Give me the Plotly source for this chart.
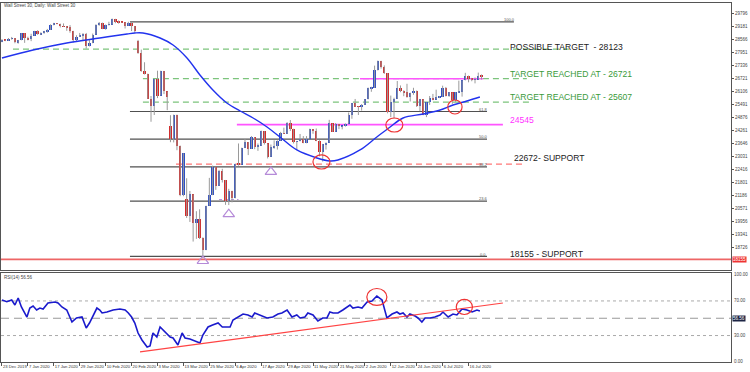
import plotly.graph_objects as go

# ---------------- data ----------------
date_labels = ["23 Dec 2019", "7 Jan 2020", "17 Jan 2020", "29 Jan 2020", "10 Feb 2020",
               "20 Feb 2020", "3 Mar 2020", "13 Mar 2020", "25 Mar 2020", "6 Apr 2020",
               "17 Apr 2020", "29 Apr 2020", "11 May 2020", "21 May 2020", "2 Jun 2020",
               "12 Jun 2020", "24 Jun 2020", "6 Jul 2020", "16 Jul 2020"]
label_bars = [0, 8, 16, 24, 32, 40, 48, 56, 64, 72, 80, 88, 96, 104, 112, 120, 128, 136, 144]

opens = [28480, 28560, 28520, 28620, 28640, 28460, 28540, 28870, 28650, 28580,
         28760, 28960, 28820, 28910, 28940, 29030, 29290, 29350, 29320, 29200,
         29190, 29160, 28990, 28540, 28720, 28740, 28860, 28260, 28400, 28810,
         29290, 29380, 29100, 29280, 29280, 29550, 29420, 29400, 29390, 29230,
         29350, 29220, 28500, 27960, 27080, 26960, 25770, 25410, 26700, 25920,
         27090, 26120, 24500, 23850, 25020, 23550, 21200, 21000, 20190, 21240,
         19900, 20090, 19170, 18590, 20700, 21200, 22550, 21640, 22330, 21920,
         20940, 21410, 21050, 22680, 22650, 23430, 23720, 23390, 23950, 23500,
         23540, 24240, 23650, 23020, 23480, 23520, 23780, 24130, 24100, 24630,
         24350, 23720, 23750, 23880, 23660, 23880, 24330, 24220, 23760, 23250,
         23620, 23690, 24600, 24210, 24580, 24470, 24470, 24590, 25000, 25550,
         25400, 25380, 25480, 25740, 26270, 26280, 27110, 27570, 27270, 26990,
         25130, 25600, 25760, 26290, 26120, 26080, 25870, 26020, 26160, 25450,
         25750, 25020, 25600, 25810, 25730, 25830, 25850, 26290, 25890, 26070,
         25710, 26080, 26090, 26640, 26870, 26730, 26680, 26680, 26850]
highs = [28600, 28580, 28650, 28700, 28650, 28560, 28880, 28880, 28710, 28850,
         28990, 29020, 28920, 28990, 29080, 29300, 29370, 29360, 29330, 29340,
         29220, 29260, 28990, 28780, 28890, 28880, 28890, 28550, 28860, 29300,
         29410, 29380, 29290, 29420, 29570, 29560, 29480, 29420, 29400, 29420,
         29400, 29220, 28560, 28100, 27500, 26960, 25900, 26710, 27100, 27100,
         27090, 26120, 24990, 25020, 25020, 23550, 23190, 22000, 21400, 21240,
         20440, 20530, 19200, 20700, 22020, 22600, 22550, 22400, 22450, 21920,
         21500, 21410, 22700, 23650, 23450, 23860, 23720, 24000, 23950, 23650,
         24260, 24240, 23650, 23600, 23800, 23800, 24200, 24400, 24660, 24760,
         24350, 23770, 24100, 24000, 24000, 24350, 24330, 24360, 23800, 23630,
         23700, 24770, 24600, 24620, 24580, 24480, 24600, 25120, 25560, 25760,
         25420, 25520, 25750, 26300, 26340, 27340, 27580, 27570, 27350, 26990,
         25920, 25820, 26610, 26400, 26170, 26480, 26060, 26290, 26160, 25760,
         25750, 25600, 25900, 26000, 26200, 25900, 26390, 26330, 26090, 26070,
         26090, 26630, 26640, 27000, 26870, 26760, 26780, 27010, 26920]
lows = [28450, 28500, 28510, 28570, 28400, 28380, 28540, 28420, 28540, 28500,
        28760, 28800, 28790, 28850, 28900, 29030, 29250, 29300, 29150, 29170,
        28990, 28900, 28440, 28500, 28700, 28500, 28150, 28250, 28400, 28810,
        29230, 29070, 29040, 29240, 29280, 29350, 29330, 29370, 29100, 29230,
        28980, 28900, 27900, 27050, 26920, 25760, 24680, 25000, 25800, 25920,
        25990, 25230, 23710, 23700, 23330, 21150, 21150, 20120, 19930, 19000,
        19130, 19120, 18210, 18590, 20700, 21200, 21450, 21640, 21800, 20740,
        20730, 20860, 21050, 22600, 22650, 23430, 23100, 23390, 23380, 23300,
        23540, 23600, 22940, 23020, 23400, 23360, 23780, 24100, 24100, 24240,
        23650, 23360, 23750, 23660, 23660, 23880, 24110, 23760, 23040, 22790,
        23360, 23690, 24200, 24210, 24330, 24320, 24450, 24590, 24820, 25380,
        25000, 25210, 25480, 25740, 26100, 26280, 27110, 27200, 26950, 25080,
        24900, 24840, 25760, 26080, 25890, 25820, 25640, 25960, 25380, 25180,
        24990, 24900, 25480, 25700, 25730, 25800, 25850, 25880, 25860, 25530,
        25620, 26040, 25870, 26640, 26550, 26600, 26500, 26680, 26680]
closes = [28560, 28520, 28620, 28640, 28460, 28540, 28870, 28650, 28580, 28760,
          28960, 28820, 28910, 28940, 29030, 29290, 29350, 29320, 29200, 29190,
          29160, 28990, 28540, 28720, 28740, 28860, 28260, 28400, 28810, 29290,
          29380, 29100, 29280, 29280, 29550, 29420, 29400, 29390, 29230, 29350,
          29220, 29000, 27960, 27080, 26960, 25770, 25410, 26700, 25920, 27090,
          26120, 25860, 23850, 25020, 23550, 21200, 23190, 20190, 21240, 19900,
          20090, 19170, 18590, 20700, 21200, 22550, 21640, 22330, 21920, 20940,
          21410, 21050, 22680, 22650, 23430, 23720, 23390, 23950, 23500, 23540,
          24240, 23650, 23020, 23480, 23520, 23780, 24130, 24100, 24630, 24350,
          23720, 23750, 23880, 23660, 23880, 24330, 24220, 23760, 23250, 23620,
          23690, 24600, 24210, 24580, 24470, 24470, 24590, 25000, 25550, 25400,
          25380, 25480, 25740, 26270, 26280, 27110, 27570, 27270, 26990, 25130,
          25600, 25760, 26290, 26120, 26080, 25870, 26020, 26160, 25450, 25750,
          25020, 25600, 25810, 25730, 25830, 25850, 26290, 25890, 26070, 25710,
          26080, 26090, 26640, 26870, 26730, 26680, 26680, 26850, 26820]

# moving average
ma_bar = [0, 9.6, 20, 30.2, 38.6, 41, 43.5, 48.8, 52.8, 57.1, 61.1, 65.1, 69.4, 73.5,
          77.5, 81.8, 85.8, 91, 97.2, 101.2, 103.7, 110.5, 115.7, 119.8, 123.8, 130,
          135.2, 139.2, 143.5, 147.5]
ma_val = [27702, 28081, 28413, 28650, 28840, 28887, 28887, 28650, 28318, 27702, 26896,
          26185, 25569, 25190, 24858, 24432, 23958, 23342, 22963, 22821, 22868, 23342,
          23958, 24432, 24858, 25048, 25237, 25474, 25664, 25853]

# RSI(14)
rsi_bar = [0, 1.5, 3, 4, 5, 6, 7.7, 8.6, 9.6, 10.7, 11.7, 12.7, 14.2, 16.4, 17.3, 18.5,
           20, 21.6, 23, 24.7, 26, 27, 29.3, 30.2, 30.9, 32.4, 34.3, 36.4, 38, 39, 40,
           41, 42, 43.2, 44.8, 45.7, 46.6, 47.8, 48.8, 50.3, 51.9, 52.8, 54.3, 55.6,
           56.5, 58, 59.6, 61.1, 62, 63.6, 65, 66.7, 68, 70.4, 71.3, 72.8, 74.4, 75.9,
           77.2, 78, 79.6, 81.8, 83.6, 85.2, 86.4, 88, 89.5, 91, 92, 93.5, 94.4, 96,
           97.5, 99, 100.3, 101.2, 102.2, 103.7, 105.2, 107.4, 108.3, 109.9, 111.1,
           112.7, 114.2, 115.7, 117.3, 118.8, 120.4, 121.9, 122.8, 123.8, 125, 125.9,
           127.5, 128.4, 129.6, 130.6, 132.1, 133.6, 135.2, 136.1, 137.7, 139.2, 140.4,
           142, 143.5, 145.1, 146.6, 147.5]
rsi_val = [71.1, 69.1, 71.1, 65.3, 73.4, 63, 51.4, 61.8, 64.2, 59.5, 61.8, 60.7, 67.6,
           68.8, 67.6, 63, 59.5, 45.7, 50.3, 51.4, 38.7, 44.5, 61.8, 59.5, 56.1, 57.2,
           59.5, 60.7, 59.5, 56.1, 51.4, 44.5, 32.9, 24.9, 16.8, 17.9, 32.9, 28.3, 39.9,
           34.1, 28.3, 27.2, 19.1, 32.9, 27.2, 26, 23.7, 21.4, 30.6, 39.9, 42.2, 44.5,
           39.9, 39.9, 48, 51.4, 54.9, 53.8, 51.4, 56.1, 53.8, 50.3, 51.4, 54.9, 56.1,
           59.5, 51.4, 53.8, 50.3, 51.4, 56.1, 53.8, 46.8, 50.3, 50.3, 57.2, 56.1, 56.1,
           59.5, 65.3, 61.8, 63, 61.8, 68.8, 69.9, 75.7, 71.1, 50.3, 54.9, 57.2, 54.9,
           56.1, 51.4, 54.9, 52.6, 50.3, 45.7, 50.3, 50.3, 51.4, 53.8, 57.2, 51.4, 54.9,
           53.8, 60.7, 59.5, 57.2, 59.5, 58.4]

price_ticks = [18726 + 615 * k for k in range(19)]
fib_low, fib_high = 18300, 29410
fib_ratios = [0.0, 23.6, 38.2, 50.0, 61.8, 100.0]
possible_target = 28123
target_1 = 26721
target_2 = 25607
level_24545 = 24545
support_1 = 22672
support_2 = 18155
rsi_levels = [70, 50, 30]

# ---------------- figure ----------------
n = len(closes)
bars = list(range(n))
BLUE_C = "#2f4fc4"
RED_C = "#d42a2a"

fig = go.Figure()

# wicks
wx, wy = [], []
for i in bars:
    wx += [i, i, None]
    wy += [lows[i], highs[i], None]
fig.add_trace(go.Scatter(x=wx, y=wy, mode="lines", line=dict(color="#9a9a9a", width=1),
                         hoverinfo="skip", showlegend=False, xaxis="x", yaxis="y"))
# bodies
fig.add_trace(go.Bar(x=bars, y=[max(abs(c - o), 25) for o, c in zip(opens, closes)],
                     base=[min(o, c) for o, c in zip(opens, closes)], width=0.72,
                     marker=dict(color=[BLUE_C if c >= o else RED_C for o, c in zip(opens, closes)],
                                 line=dict(width=0)),
                     showlegend=False, xaxis="x", yaxis="y"))
# MA
fig.add_trace(go.Scatter(x=ma_bar, y=ma_val, mode="lines", line=dict(color="#2233ee", width=1.4, shape="spline"),
                         showlegend=False, xaxis="x", yaxis="y"))
# triangles
tri_bar = [62, 70, 83]
tri_price = [18080, 20300, 22300]
fig.add_trace(go.Scatter(x=tri_bar, y=tri_price, mode="markers",
                         marker=dict(symbol="triangle-up-open", size=10, color="#b58ad8", line=dict(width=1.2)),
                         showlegend=False, xaxis="x", yaxis="y", cliponaxis=False))
# RSI
fig.add_trace(go.Scatter(x=rsi_bar, y=rsi_val, mode="lines", line=dict(color="#1a1acc", width=1.6),
                         showlegend=False, xaxis="x2", yaxis="y2"))

shapes = []
def hline(y, x0, x1, color, width=1, dash="solid", yref="y", xref="x"):
    shapes.append(dict(type="line", xref=xref, yref=yref, x0=x0, x1=x1, y0=y, y1=y,
                       line=dict(color=color, width=width, dash=dash), layer="below"))

# fib lines
fib_prices = [fib_low + (fib_high - fib_low) * r / 100 for r in fib_ratios]
for r, p in zip(fib_ratios, fib_prices):
    x1 = 158 if r == 100.0 else 149.7
    hline(p, 39.5, x1, "#505050", 1.2)
# target / support lines
hline(possible_target, 3.4, 176, "#7cc47c", 1.2, "6px,4px")
hline(target_1, 43.5, 162, "#7cc47c", 1.2, "6px,4px")
hline(target_2, 43.5, 163, "#7cc47c", 1.2, "6px,4px")
hline(level_24545, 72.5, 154.6, "#ff55ff", 1.6)
hline(target_1, 110.5, 148.5, "#ff55ff", 1.6)
hline(support_1, 53.7, 160.8, "#ff7777", 1.2, "6px,4px")
hline(support_2, 0, 1, "#ee6666", 1.8, xref="paper")
hline(20990, 67, 73, "#b58ad8", 1, "3px,3px")
# rsi levels
hline(70, 0, 1, "#aaaaaa", 1, "dot", yref="y2", xref="paper")
hline(30, 0, 1, "#aaaaaa", 1, "dot", yref="y2", xref="paper")
hline(50, 0, 1, "#999999", 1.2, "8px,5px", yref="y2", xref="paper")
# rsi trend line
shapes.append(dict(type="line", xref="x2", yref="y2", x0=42.6, y0=11, x1=154.6, y1=67.6,
                   line=dict(color="#ff4444", width=1.2)))
# circles
def ellipse(cx, cy, rx, ry, yref="y", xref="x"):
    shapes.append(dict(type="circle", xref=xref, yref=yref, x0=cx - rx, x1=cx + rx,
                       y0=cy - ry, y1=cy + ry, line=dict(color="#ee3333", width=1.2)))
ellipse(98.6, 22773, 2.62, 332)
ellipse(121.1, 24526, 2.62, 332)
ellipse(139.8, 25380, 2.2, 332)
ellipse(115.7, 74.6, 3.1, 9.8, yref="y2", xref="x2")
ellipse(142.7, 63, 2.5, 8.7, yref="y2", xref="x2")

FONT = "Liberation Sans, Arial, sans-serif"
ann = []
def text(x, y, s, color="#222222", size=8.6, xref="x", yref="y", xanchor="left", bg=None):
    d = dict(x=x, y=y, xref=xref, yref=yref, text=s, showarrow=False, xanchor=xanchor,
             yanchor="middle", font=dict(family=FONT, size=size, color=color))
    if bg:
        d["bgcolor"] = bg
        d["borderpad"] = 0
    ann.append(d)

text(156.3, possible_target + 120, "POSSIBLE TARGET  - 28123")
text(156.3, target_1 + 200, "TARGET REACHED AT - 26721", "#3a9a3a")
text(156.3, target_2 + 250, "TARGET REACHED AT - 25607", "#3a9a3a")
text(156.3, level_24545 + 230, "24545", "#ff33ff")
text(157.3, support_1 + 280, "22672- SUPPORT")
text(156.3, support_2 + 270, "18155 - SUPPORT")
for r, p in zip(fib_ratios, fib_prices):
    xr = 156.5 if r == 100.0 else 148.5
    text(xr, p + 110, "%.1f" % r, "#555555", 4, xanchor="center")
text(0.002, 0.993, "Wall Street 30, Daily: Wall Street 30", "#444444", 4.5, xref="paper", yref="paper")
text(0.002, 0.2345, "RSI(14) 56.56", "#444444", 4.5, xref="paper", yref="paper")
text(1.002, support_2, "18155", "#ffffff", 4.5, xref="paper", bg="#ee3333")
text(1.002, 50, "56.56", "#ffffff", 4.5, xref="paper", yref="y2", bg="#1c2444")
for v in [100, 70, 30]:
    text(1.002, v, "%.2f" % v, "#444444", 4.5, xref="paper", yref="y2")
text(1.002, -0.5, "0.00", "#444444", 4.5, xref="paper", yref="y2")

fig.update_layout(
    width=750, height=372,
    margin=dict(l=1, r=19, t=3, b=10),
    paper_bgcolor="white", plot_bgcolor="white",
    font=dict(family=FONT, size=5, color="#333333"),
    showlegend=False, bargap=0, shapes=shapes, annotations=ann,
    xaxis=dict(domain=[0, 1], range=[-0.3, 225], anchor="y", showticklabels=False,
               showgrid=False, zeroline=False, showline=True, linecolor="#555555", linewidth=1,
               mirror=True, ticks=""),
    yaxis=dict(domain=[0.2563, 1], range=[17653, 30309], side="right", tickvals=price_ticks,
               ticktext=[str(v) for v in price_ticks], tickfont=dict(size=4.5, color="#444444"),
               ticks="outside", ticklen=2, tickcolor="#555555", showgrid=False, zeroline=False,
               showline=True, linecolor="#555555", mirror=True),
    xaxis2=dict(domain=[0, 1], range=[-0.3, 225], anchor="y2", tickvals=label_bars,
                ticktext=date_labels, tickfont=dict(size=4.2, color="#333333"), tickangle=0,
                ticks="outside", ticklen=3, tickcolor="#555555", ticklabelposition="outside right",
                showgrid=False, zeroline=False, showline=True, linecolor="#555555", mirror=True),
    yaxis2=dict(domain=[0, 0.2479], range=[-0.6, 102.3], side="right", showticklabels=False,
                ticks="", showgrid=False, zeroline=False, showline=True, linecolor="#555555",
                mirror=True),
)

fig.write_html("out.html", config={"displayModeBar": False},
               post_script="document.body.style.margin='0';document.body.style.overflow='hidden';")
